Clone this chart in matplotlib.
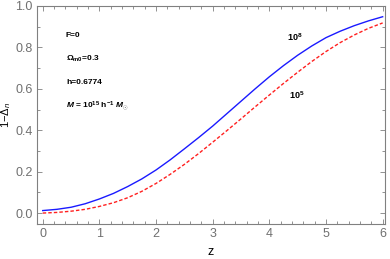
import matplotlib
matplotlib.use("Agg")
import matplotlib.pyplot as plt
from matplotlib.ticker import MultipleLocator

plt.rcParams['font.family'] = ['Liberation Sans', 'DejaVu Sans']
plt.rcParams['mathtext.fontset'] = 'custom'
plt.rcParams['mathtext.rm'] = 'Liberation Sans'
plt.rcParams['mathtext.it'] = 'Liberation Sans:italic'
plt.rcParams['mathtext.bf'] = 'Liberation Sans:bold'
plt.rcParams['mathtext.bfit'] = 'Liberation Sans:bold:italic'

# data
z = [0, 0.25, 0.5, 0.75, 1, 1.25, 1.5, 1.75, 2, 2.25, 2.5, 2.75, 3,
     3.25, 3.5, 3.75, 4, 4.25, 4.5, 4.75, 5, 5.25, 5.5, 5.75, 6]
blue_1e8 = [0.012, 0.018, 0.028, 0.045, 0.068, 0.095, 0.128, 0.165, 0.208,
            0.257, 0.310, 0.364, 0.420, 0.480, 0.540, 0.600, 0.658, 0.712,
            0.762, 0.807, 0.847, 0.878, 0.905, 0.928, 0.948]
red_1e5 = [0.000, 0.003, 0.009, 0.018, 0.032, 0.050, 0.074, 0.105, 0.143,
           0.187, 0.235, 0.287, 0.342, 0.398, 0.455, 0.513, 0.570, 0.626,
           0.680, 0.732, 0.780, 0.823, 0.860, 0.892, 0.918]
xticks = [0, 1, 2, 3, 4, 5, 6]
yticks = [0.0, 0.2, 0.4, 0.6, 0.8, 1.0]

fig = plt.figure(figsize=(3.9, 2.59), dpi=100)
ax = fig.add_axes([0.095, 0.135, 0.892, 0.842])

ax.plot(z, blue_1e8, color='#1a1aff', lw=1.0)
ax.plot(z, red_1e5, color='#ff2020', lw=1.0, dashes=(2.5, 1.5))

ax.set_xlim(-0.1, 6.04)
ax.set_ylim(-0.053, 1.0)
ax.set_xticks(xticks)
ax.set_yticks(yticks)
ax.set_xticklabels([str(t) for t in xticks])
ax.set_yticklabels(['%.1f' % t for t in yticks])
ax.xaxis.set_minor_locator(MultipleLocator(0.2))
ax.yaxis.set_minor_locator(MultipleLocator(0.1))

gray = '#808080'
for s in ax.spines.values():
    s.set_color(gray)
    s.set_linewidth(0.8)
ax.tick_params(which='both', direction='in', top=True, right=True, colors=gray,
               labelcolor='#707070', labelsize=9, width=0.6)
ax.tick_params(which='major', length=3.5, pad=3)
ax.tick_params(which='minor', length=2)

ax.set_xlabel('z', fontsize=9, color='black', labelpad=4)
ax.set_ylabel(r'1$-\Delta_{n}$', fontsize=8, color='black')
ax.yaxis.label.set_va('center')
ax.yaxis.set_label_coords(-0.088, 0.5)

tk = dict(fontsize=6, fontweight='bold', color='black', transform=fig.transFigure,
          va='center', ha='left')
fig.text(66/390, 1-36/259, 'F=0', **tk)
fig.text(66/390, 1-59/259, r'$\mathbf{\Omega_{m0}}$=0.3', **tk)
fig.text(66/390, 1-82/259, 'h=0.6774', **tk)
fig.text(66/390, 1-106/259, r'$\mathbfit{M}$ = 10$^{\mathbf{15}}$ h$^{\mathbf{-1}}$ $\mathbfit{M}_{\odot}$', **tk)

ax.text(4.44, 0.85, r'$\mathbf{10^{8}}$', fontsize=6.5, ha='center', va='center')
ax.text(4.48, 0.57, r'$\mathbf{10^{5}}$', fontsize=6.5, ha='center', va='center')

fig.savefig('out.png', dpi=100)
